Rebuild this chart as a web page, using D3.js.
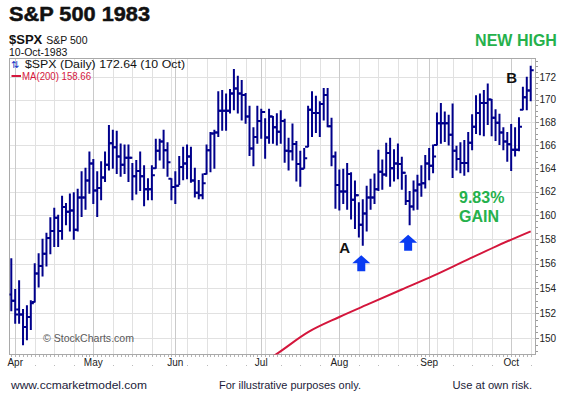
<!DOCTYPE html>
<html>
<head>
<meta charset="utf-8">
<script src="https://cdn.jsdelivr.net/npm/d3@7"></script>
<style>
html, body { margin: 0; padding: 0; background: #fff; }
svg { display: block; }
text { font-family: "Liberation Sans", Arial, sans-serif; }
</style>
</head>
<body>
<svg id="chart" width="565" height="396"></svg>
<script>
// S&P 500 daily OHLC bars, 31 Mar - 10 Oct 1983, with 200-day moving average
const dates = [
    "3/31",
    "4/4","4/5","4/6","4/7","4/8","4/11","4/12","4/13","4/14","4/15","4/18","4/19","4/20","4/21","4/22","4/25","4/26","4/27","4/28","4/29",
    "5/2","5/3","5/4","5/5","5/6","5/9","5/10","5/11","5/12","5/13","5/16","5/17","5/18","5/19","5/20","5/23","5/24","5/25","5/26","5/27","5/31",
    "6/1","6/2","6/3","6/6","6/7","6/8","6/9","6/10","6/13","6/14","6/15","6/16","6/17","6/20","6/21","6/22","6/23","6/24","6/27","6/28","6/29","6/30",
    "7/1","7/5","7/6","7/7","7/8","7/11","7/12","7/13","7/14","7/15","7/18","7/19","7/20","7/21","7/22","7/25","7/26","7/27","7/28","7/29",
    "8/1","8/2","8/3","8/4","8/5","8/8","8/9","8/10","8/11","8/12","8/15","8/16","8/17","8/18","8/19","8/22","8/23","8/24","8/25","8/26","8/29","8/30","8/31",
    "9/1","9/2","9/6","9/7","9/8","9/9","9/12","9/13","9/14","9/15","9/16","9/19","9/20","9/21","9/22","9/23","9/26","9/27","9/28","9/29","9/30",
    "10/3","10/4","10/5","10/6","10/7","10/10"
];

const opens = [
    153.5, 153.0, 152.3, 151.9, 150.9, 151.7, 152.9, 155.2, 155.8, 156.8, 158.1, 158.7, 159.8, 158.7, 160.7, 160.3, 160.4, 158.8, 161.5, 161.5, 162.95,
    164.4, 162.1, 162.3, 163.2, 164.3, 166.15, 165.8, 165.0, 164.3, 164.9, 164.9, 163.3, 163.75, 163.3, 162.2, 162.2, 164.0, 165.5, 166.3, 165.55, 163.1,
    162.4, 162.5, 164.1, 164.4, 165.0, 162.95, 161.9, 161.7, 163.5, 165.55, 167.0, 167.1, 169.0, 169.0, 169.0, 170.55, 171.0, 170.55, 170.4, 168.5, 165.7, 166.7,
    168.1, 168.9, 166.65, 168.5, 167.55, 167.15, 168.1, 165.5, 165.45, 166.1, 164.35, 163.95, 165.85, 169.1, 168.8, 168.8, 169.6, 170.4, 167.65, 165.0,
    162.55, 162.0, 162.0, 163.5, 161.3, 161.7, 159.2, 160.15, 161.5, 161.5, 162.2, 163.7, 163.45, 165.3, 164.0, 164.4, 164.35, 163.6, 161.2, 160.75, 162.1, 162.6, 162.7,
    164.4, 164.2, 166.0, 167.9, 167.9, 167.9, 166.9, 165.5, 164.8, 164.45, 164.45, 166.2, 167.6, 168.8, 169.7, 169.7, 170.0, 168.4, 167.95, 167.1, 166.3,
    166.07, 165.6, 165.6, 169.1, 170.2, 170.8
];

const highs = [
    156.4, 153.9, 154.6, 152.3, 152.6, 153.0, 156.0, 156.8, 158.0, 158.5, 159.8, 160.6, 160.0, 161.6, 161.0, 161.8, 161.9, 162.2, 163.7, 164.0, 165.4,
    164.75, 163.7, 164.55, 165.4, 167.7, 167.3, 167.2, 166.1, 166.0, 166.0, 164.4, 164.65, 165.4, 164.2, 163.1, 164.2, 166.5, 166.5, 167.3, 166.2, 163.1,
    163.7, 165.0, 165.8, 166.0, 165.8, 164.0, 162.95, 163.5, 166.0, 167.1, 167.3, 170.7, 170.8, 170.5, 170.9, 172.7, 172.1, 171.7, 170.55, 169.4, 167.5, 169.4,
    169.15, 168.3, 169.15, 168.5, 168.75, 169.0, 168.25, 166.6, 167.85, 166.3, 165.45, 165.7, 169.4, 170.7, 170.3, 169.8, 171.0, 171.0, 168.35, 165.4,
    163.85, 163.9, 164.4, 163.6, 162.9, 161.05, 161.3, 162.45, 163.05, 163.5, 165.55, 164.7, 166.15, 166.6, 165.6, 166.1, 164.95, 163.4, 162.0, 162.9, 163.4, 164.2, 165.1,
    165.7, 166.0, 168.8, 169.65, 168.9, 168.6, 169.6, 165.9, 166.2, 166.4, 167.1, 168.65, 170.35, 170.5, 170.8, 171.4, 170.0, 169.1, 168.7, 167.5, 167.1,
    167.8, 167.5, 168.4, 171.1, 172.0, 173.0
];

const lows = [
    152.2, 151.2, 151.2, 149.5, 149.9, 150.7, 152.9, 154.1, 155.0, 155.8, 156.8, 157.4, 157.4, 158.0, 159.2, 158.7, 158.0, 158.7, 159.9, 160.5, 161.85,
    161.0, 159.9, 161.3, 162.85, 163.85, 164.0, 163.55, 163.3, 163.55, 162.85, 161.3, 161.8, 162.1, 160.8, 161.3, 161.3, 164.0, 164.7, 164.0, 163.3, 161.3,
    161.0, 162.6, 163.0, 163.1, 162.8, 161.55, 161.4, 161.4, 163.5, 163.7, 164.0, 166.75, 167.3, 167.3, 168.8, 169.1, 168.8, 168.2, 167.9, 165.1, 164.2, 166.15,
    166.6, 164.85, 166.15, 166.15, 166.0, 166.15, 164.5, 163.85, 164.7, 162.9, 162.45, 164.0, 165.85, 166.75, 167.1, 166.75, 168.2, 167.6, 164.2, 160.6,
    160.45, 161.0, 160.5, 159.7, 158.9, 158.2, 157.5, 158.7, 160.5, 161.0, 162.1, 162.2, 163.3, 162.45, 162.9, 163.1, 162.2, 160.9, 159.2, 160.45, 160.5, 161.6, 162.3,
    163.0, 163.6, 166.0, 166.15, 166.3, 166.0, 163.2, 163.85, 163.6, 163.4, 163.7, 165.6, 167.0, 166.9, 166.8, 167.8, 166.8, 166.4, 166.05, 165.6, 164.6,
    163.8, 165.05, 165.5, 169.1, 169.1, 169.9
];

const closes = [
    153.0, 151.9, 151.9, 150.9, 151.7, 152.8, 155.2, 155.8, 156.8, 158.1, 158.7, 159.8, 158.7, 160.7, 160.3, 160.4, 158.8, 161.5, 161.5, 162.95, 164.4,
    162.1, 162.3, 163.2, 164.3, 166.15, 165.8, 165.0, 164.3, 164.9, 164.9, 163.3, 163.75, 163.3, 162.2, 162.2, 163.4, 165.5, 166.3, 165.55, 164.5, 162.4,
    162.5, 164.1, 164.4, 165.0, 162.95, 161.9, 161.7, 162.7, 165.55, 167.0, 167.1, 169.0, 169.0, 169.0, 170.55, 171.0, 170.55, 170.4, 168.5, 165.7, 166.7, 168.1,
    168.9, 166.65, 168.5, 167.55, 167.15, 168.1, 165.5, 165.45, 166.1, 164.35, 163.95, 164.85, 169.1, 168.8, 168.8, 169.6, 170.4, 167.65, 165.0, 162.55,
    162.0, 162.0, 163.5, 161.3, 161.7, 159.2, 160.15, 161.5, 161.5, 162.2, 163.7, 163.45, 165.3, 164.0, 164.4, 164.35, 163.6, 161.2, 160.75, 162.1, 162.6, 162.7, 164.4,
    164.2, 165.0, 167.9, 167.9, 167.9, 166.9, 165.5, 164.8, 164.45, 164.45, 166.2, 167.6, 168.8, 169.7, 169.7, 170.0, 168.4, 167.95, 167.1, 166.3, 166.07,
    165.6, 165.6, 167.6, 170.2, 170.8, 172.64
];

// MA(200) read at a few dates
const maDates = ["7/6", "7/8", "7/20", "8/1", "8/11", "8/23", "9/2", "9/15", "9/27", "10/10"];
const maValues = [148.4, 148.8, 150.5, 151.7, 152.8, 153.9, 155.0, 156.2, 157.4, 158.66];

const yTicks = [150, 152, 154, 156, 158, 160, 162, 164, 166, 168, 170, 172];
const monthLabels = ["Apr", "May", "Jun", "Jul", "Aug", "Sep", "Oct"];

// annotation anchors (date, price)
const arrowDates = ["8/9", "8/25"];
const arrowPrices = [157.5, 159.2];

(function () {
    const svg = d3.select('#chart');
    const plot = { left: 9.5, right: 535.5, top: 58.5, bottom: 354.5 };
    const barColor = '#00008b';
    const maColor = '#d4163c';
    const green = '#25b14c';

    const parse = d3.timeParse('%m/%d/%Y');
    const days = dates.map(s => parse(s + '/1983'));
    const bars = dates.map((k, i) => ({ key: k, date: days[i], o: opens[i], h: highs[i], l: lows[i], c: closes[i] }));

    const x = d3.scalePoint().domain(dates).range([11.3, 530.7]);
    const y = d3.scaleLog().domain([148.74, 173.68]).range([354.6, 58.7]);

    svg.append('rect').attr('width', 565).attr('height', 396).attr('fill', '#fff');

    svg.append('clipPath').attr('id', 'plotclip')
        .append('rect')
        .attr('x', plot.left).attr('y', plot.top)
        .attr('width', plot.right - plot.left).attr('height', plot.bottom - plot.top);

    // week and month starts from the dates
    const monthStarts = [];
    const weekStarts = [];
    days.forEach((d, i) => {
        if (i === 0) return;
        if (d.getMonth() !== days[i - 1].getMonth()) monthStarts.push(i);
        if (+d3.timeMonday.floor(d) !== +d3.timeMonday.floor(days[i - 1])) weekStarts.push(i);
    });

    const grid = svg.append('g').attr('shape-rendering', 'crispEdges');
    grid.selectAll('line.h')
        .data(yTicks)
        .join('line')
        .attr('x1', plot.left).attr('x2', plot.right)
        .attr('y1', d => Math.round(y(d)) + 0.5).attr('y2', d => Math.round(y(d)) + 0.5)
        .attr('stroke', '#e1e1e1');
    grid.selectAll('line.w')
        .data(weekStarts.filter(i => !monthStarts.includes(i)))
        .join('line')
        .attr('x1', i => Math.round(x(dates[i])) + 0.5).attr('x2', i => Math.round(x(dates[i])) + 0.5)
        .attr('y1', plot.top).attr('y2', plot.bottom)
        .attr('stroke', '#e1e1e1');
    grid.selectAll('line.m')
        .data(monthStarts)
        .join('line')
        .attr('x1', i => Math.round(x(dates[i])) + 0.5).attr('x2', i => Math.round(x(dates[i])) + 0.5)
        .attr('y1', plot.top).attr('y2', plot.bottom)
        .attr('stroke', '#cacaca');

    // frame
    svg.append('rect')
        .attr('x', plot.left).attr('y', plot.top)
        .attr('width', plot.right - plot.left).attr('height', plot.bottom - plot.top)
        .attr('fill', 'none').attr('stroke', '#a9a9a9').attr('shape-rendering', 'crispEdges');

    // right axis: minor ticks every 0.5, labels every 2
    const minor = d3.range(149, 173.6, 0.5);
    svg.append('g').attr('shape-rendering', 'crispEdges')
        .selectAll('line')
        .data(minor)
        .join('line')
        .attr('x1', plot.right).attr('x2', d => plot.right + (yTicks.includes(d) ? 3 : 2))
        .attr('y1', d => Math.round(y(d)) + 0.5).attr('y2', d => Math.round(y(d)) + 0.5)
        .attr('stroke', '#9a9a9a');
    svg.append('g')
        .selectAll('text')
        .data(yTicks)
        .join('text')
        .attr('x', plot.right + 4)
        .attr('y', d => y(d) + 3.6)
        .attr('font-size', 10)
        .attr('fill', '#222')
        .text(d => d);

    // bottom axis: a tick per trading day, month labels
    svg.append('g').attr('shape-rendering', 'crispEdges')
        .selectAll('line')
        .data(dates)
        .join('line')
        .attr('x1', d => Math.round(x(d)) + 0.5).attr('x2', d => Math.round(x(d)) + 0.5)
        .attr('y1', plot.bottom).attr('y2', plot.bottom + 2.5)
        .attr('stroke', '#b5b5b5');
    svg.append('g')
        .selectAll('rect')
        .data(weekStarts.filter(i => !monthStarts.includes(i)))
        .join('rect')
        .attr('x', i => Math.round(x(dates[i])))
        .attr('y', 365).attr('width', 1).attr('height', 1)
        .attr('fill', '#bbb');
    svg.append('g')
        .selectAll('text')
        .data(monthStarts)
        .join('text')
        .attr('x', i => x(dates[i]))
        .attr('y', 366)
        .attr('text-anchor', 'middle')
        .attr('font-size', 10)
        .attr('fill', '#222')
        .text(i => d3.timeFormat('%b')(days[i]))
        .filter(i => !monthLabels.includes(d3.timeFormat('%b')(days[i]))).remove();

    // watermark
    svg.append('text')
        .attr('x', 43).attr('y', 342)
        .attr('font-size', 11).attr('fill', '#5a5a5a')
        .attr('textLength', 91).attr('lengthAdjust', 'spacingAndGlyphs')
        .text('\u00A9 StockCharts.com');

    const clipped = svg.append('g').attr('clip-path', 'url(#plotclip)');

    // MA(200)
    const maLine = d3.line()
        .x((d, i) => x(maDates[i]))
        .y(d => y(d))
        .curve(d3.curveMonotoneX);
    clipped.append('path')
        .attr('d', maLine(maValues))
        .attr('fill', 'none')
        .attr('stroke', maColor)
        .attr('stroke-width', 2);

    // OHLC bars
    const barG = clipped.selectAll('g.bar')
        .data(bars)
        .join('g')
        .attr('class', 'bar')
        .attr('stroke', barColor)
        .attr('stroke-width', 2);
    barG.append('line')
        .attr('x1', d => x(d.key)).attr('x2', d => x(d.key))
        .attr('y1', d => y(d.h) - 0.5).attr('y2', d => y(d.l) + 0.5);
    barG.append('line')
        .attr('x1', d => x(d.key) - 3).attr('x2', d => x(d.key))
        .attr('y1', d => y(d.o)).attr('y2', d => y(d.o));
    barG.append('line')
        .attr('x1', d => x(d.key)).attr('x2', d => x(d.key) + 3)
        .attr('y1', d => y(d.c)).attr('y2', d => y(d.c));

    // legend
    svg.append('text')
        .attr('x', 11).attr('y', 68)
        .attr('font-family', 'DejaVu Sans').attr('font-size', 10)
        .attr('fill', '#1736c8')
        .text('\u21C5');
    svg.append('text')
        .attr('x', 25).attr('y', 67.5)
        .attr('font-family', '"DejaVu Sans Mono", monospace').attr('font-size', 10)
        .attr('fill', '#111')
        .attr('textLength', 160).attr('lengthAdjust', 'spacingAndGlyphs')
        .text('$SPX (Daily) 172.64 (10 Oct)');
    svg.append('line')
        .attr('x1', 11.5).attr('x2', 21).attr('y1', 76).attr('y2', 76)
        .attr('stroke', maColor).attr('stroke-width', 2);
    svg.append('text')
        .attr('x', 22).attr('y', 79.5)
        .attr('font-size', 10)
        .attr('fill', maColor)
        .attr('textLength', 69).attr('lengthAdjust', 'spacingAndGlyphs')
        .text('MA(200) 158.66');

    // header
    svg.append('text')
        .attr('x', 9).attr('y', 20.5)
        .attr('font-size', 20).attr('font-weight', 'bold')
        .attr('fill', '#111').attr('stroke', '#111').attr('stroke-width', 0.5)
        .attr('textLength', 141).attr('lengthAdjust', 'spacingAndGlyphs')
        .text('S&P 500 1983');
    const sub = svg.append('text').attr('x', 9).attr('y', 43.5).attr('fill', '#111');
    sub.append('tspan').attr('font-size', 13).attr('font-weight', 'bold').text('$SPX');
    sub.append('tspan').attr('font-size', 10.5).attr('dx', 4).text('S&P 500');
    svg.append('text')
        .attr('x', 9).attr('y', 55.5)
        .attr('font-size', 10.5).attr('fill', '#111')
        .text('10-Oct-1983');

    // annotations
    svg.append('text')
        .attr('x', 516).attr('y', 45.5)
        .attr('text-anchor', 'middle')
        .attr('font-size', 16).attr('font-weight', 'bold')
        .attr('fill', green)
        .text('NEW HIGH');
    svg.append('text')
        .attr('x', 459).attr('y', 203)
        .attr('font-size', 16).attr('font-weight', 'bold')
        .attr('fill', green)
        .text('9.83%');
    svg.append('text')
        .attr('x', 459).attr('y', 222)
        .attr('font-size', 16).attr('font-weight', 'bold')
        .attr('fill', green)
        .text('GAIN');
    svg.append('text')
        .attr('x', x('10/3') - 5).attr('y', y(171.5))
        .attr('font-size', 15).attr('font-weight', 'bold')
        .attr('fill', '#111')
        .text('B');
    svg.append('text')
        .attr('x', x('8/2') - 4).attr('y', y(156.85))
        .attr('font-size', 15).attr('font-weight', 'bold')
        .attr('fill', '#111')
        .text('A');

    svg.append('g')
        .selectAll('path')
        .data(arrowDates)
        .join('path')
        .attr('fill', '#0a3cf2')
        .attr('d', (d, i) => {
            const cx = x(d) - 1.5;
            const top = y(arrowPrices[i]) + 10;
            const p = d3.path();
            p.moveTo(cx, top);
            p.lineTo(cx + 9, top + 8);
            p.lineTo(cx + 4, top + 8);
            p.lineTo(cx + 4, top + 16);
            p.lineTo(cx - 4, top + 16);
            p.lineTo(cx - 4, top + 8);
            p.lineTo(cx - 9, top + 8);
            p.closePath();
            return p.toString();
        });

    // footer
    const foot = [
        { t: 'www.ccmarketmodel.com', x: 11, w: 136 },
        { t: 'For illustrative purposes only.', x: 219, w: 142 },
        { t: 'Use at own risk.', x: 452.5, w: 79.5 }
    ];
    svg.append('g')
        .selectAll('text')
        .data(foot)
        .join('text')
        .attr('x', d => d.x).attr('y', 389)
        .attr('font-size', 11)
        .attr('fill', '#1c1c3a')
        .attr('textLength', d => d.w).attr('lengthAdjust', 'spacingAndGlyphs')
        .text(d => d.t);
})();
</script>
</body>
</html>
